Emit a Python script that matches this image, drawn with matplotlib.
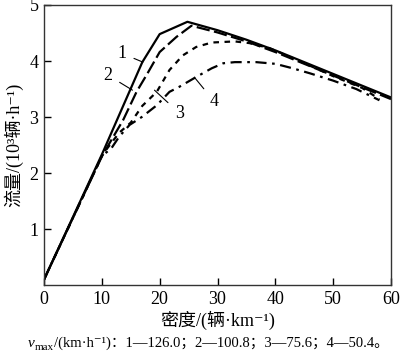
import matplotlib
matplotlib.use("Agg")
import matplotlib.pyplot as plt

FAM = ['Liberation Serif', 'Noto Sans CJK SC', 'DejaVu Serif']
plt.rcParams['font.family'] = FAM

# density (veh/km) and flow (10^3 veh/h)
k1 = [0, 10, 17, 20, 24.8, 30, 35, 40, 45, 50, 55, 60]
q1 = [0.1, 2.33, 3.98, 4.48, 4.70, 4.55, 4.38, 4.19, 3.98, 3.77, 3.56, 3.35]

k2 = [0, 10, 13.7, 16, 17.9, 20, 22.9, 25.5, 30, 35, 40, 45, 50, 55, 60]
q2 = [0.1, 2.3, 2.95, 3.45, 3.78, 4.16, 4.43, 4.63, 4.51, 4.35, 4.16, 3.95, 3.74, 3.53, 3.32]

k3 = [0, 10, 11, 13, 15, 17, 19.5, 21.7, 24, 26.3, 29, 33, 35.5, 39, 43, 47, 50, 55, 58]
q3 = [0.1, 2.3, 2.45, 2.72, 2.9, 3.2, 3.45, 3.84, 4.1, 4.25, 4.33, 4.35, 4.32, 4.23, 4.05, 3.87, 3.73, 3.52, 3.32]

k4 = [0, 10, 11.7, 13, 14.8, 16.9, 19.5, 21.7, 23.4, 26.4, 29, 31, 33, 36.7, 40, 43, 46, 50, 54, 58]
q4 = [0.1, 2.3, 2.45, 2.65, 2.86, 3.0, 3.21, 3.45, 3.54, 3.72, 3.87, 3.96, 3.98, 3.98, 3.95, 3.87, 3.78, 3.65, 3.5, 3.3]

labels = ['1', '2', '3', '4']
label_pos = [(13.4, 4.14), (11.0, 3.75), (23.4, 3.07), (29.5, 3.27)]
arrow_to = [(17.1, 3.98), (15.3, 3.48), (19.1, 3.48), (26.0, 3.71)]

x_ticks = [0, 10, 20, 30, 40, 50, 60]
y_ticks = [1, 2, 3, 4, 5]

fig = plt.figure(figsize=(4.0, 3.56), dpi=100)
ax = fig.add_axes([0.11, 0.199, 0.8675, 0.787])

ax.plot(k1, q1, color='black', lw=1.6, linestyle='-')
ax.plot(k2, q2, color='black', lw=1.6, linestyle=(0, (6, 2)))
ax.plot(k3, q3, color='black', lw=1.6, linestyle=(0, (2.5, 2.5)))
ax.plot(k4, q4, color='black', lw=1.6, linestyle=(0, (5, 2.5, 1.2, 2.5)))

for lab, (tx, ty), (ax_, ay) in zip(labels, label_pos, arrow_to):
    ax.annotate(lab, xy=(ax_, ay), xytext=(tx, ty), fontsize=13,
                ha='center', va='center',
                arrowprops=dict(arrowstyle='-', color='black', lw=0.8,
                                shrinkA=4, shrinkB=0))

ax.set_xlim(0, 60)
ax.set_ylim(0, 5)
ax.set_xticks(x_ticks)
ax.set_yticks(y_ticks)
ax.tick_params(direction='in', length=5, width=1, labelsize=13, top=False, right=False, pad=4)
for s in ax.spines.values():
    s.set_color('#333333')
    s.set_linewidth(1.0)

ax.set_xlabel('密度/(辆·km⁻¹)', fontsize=13, labelpad=2)
ax.set_ylabel('流量/(10³辆·h⁻¹)', fontsize=13, labelpad=4)

# caption built from pieces: italic v, subscript max, rest
fig.canvas.draw()
r = fig.canvas.get_renderer()
W = fig.bbox.width
y0 = 0.026
x = 28.0 / W
t = fig.text(x, y0, 'v', fontsize=11, style='italic', ha='left', va='baseline')
x += t.get_window_extent(r).width / W
t = fig.text(x, y0 - 0.009, 'max', fontsize=8, ha='left', va='baseline')
x += t.get_window_extent(r).width / W
fig.text(x, y0, '/(km·h⁻¹)：1—126.0；2—100.8；3—75.6；4—50.4。', fontsize=10.5,
         ha='left', va='baseline')

fig.savefig('out.png', dpi=100)
